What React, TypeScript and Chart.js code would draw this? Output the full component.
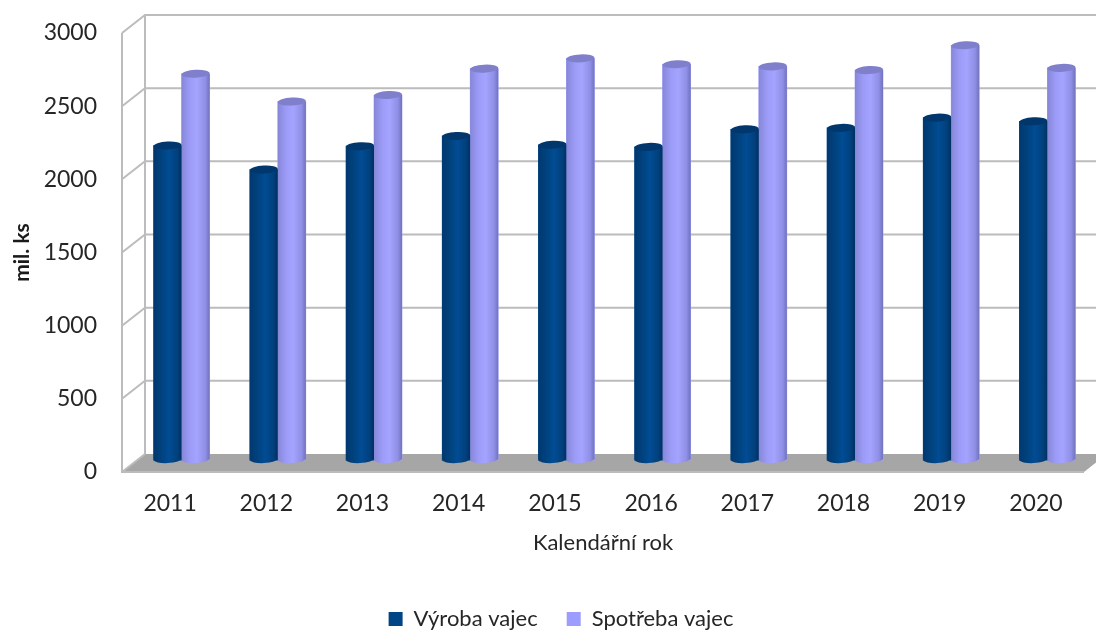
import React, { useEffect, useRef } from "react";
import { Chart, registerables } from "chart.js";

Chart.register(...registerables);

const years = ["2011", "2012", "2013", "2014", "2015", "2016", "2017", "2018", "2019", "2020"];
const vyroba = [2170, 2005, 2165, 2235, 2175, 2160, 2280, 2290, 2360, 2335];
const spotreba = [2660, 2470, 2515, 2695, 2765, 2725, 2710, 2685, 2855, 2700];

const FONT = "Lato";
const TEXT = "#262626";
const GRID = "#bcbcbc";
const DEPTH_X = 23;
const DEPTH_Y = 18;

const shades = [
  {
    stops: [[0, "#01386f"], [0.3, "#00437f"], [0.55, "#014c94"], [0.85, "#01407c"], [1, "#01305f"]] as [number, string][],
    cap: "#01376d",
  },
  {
    stops: [[0, "#8686d8"], [0.3, "#9c9cf8"], [0.55, "#a4a4ff"], [0.85, "#8f8fe6"], [1, "#7272bc"]] as [number, string][],
    cap: "#7f7fcc",
  },
];

const room = {
  id: "room",
  afterLayout(chart: any) {
    chart.legend.left += 19;
    chart.legend.right += 19;
  },
  beforeDatasetsDraw(chart: any) {
    const { ctx, chartArea: a, scales } = chart;
    const y = scales.y;
    ctx.save();
    ctx.fillStyle = "#a6a6a6";
    ctx.beginPath();
    ctx.moveTo(a.left, a.bottom);
    ctx.lineTo(a.left + DEPTH_X, a.bottom - DEPTH_Y);
    ctx.lineTo(a.right + DEPTH_X, a.bottom - DEPTH_Y);
    ctx.lineTo(a.right, a.bottom);
    ctx.closePath();
    ctx.fill();
    ctx.strokeStyle = GRID;
    ctx.lineWidth = 2;
    for (const t of y.ticks) {
      const py = y.getPixelForValue(t.value);
      ctx.beginPath();
      ctx.moveTo(a.left, py);
      ctx.lineTo(a.left + DEPTH_X, py - DEPTH_Y);
      if (t.value !== 0) ctx.lineTo(a.right + DEPTH_X, py - DEPTH_Y);
      ctx.stroke();
    }
    ctx.beginPath();
    ctx.moveTo(a.left, a.top);
    ctx.lineTo(a.left, a.bottom);
    ctx.lineTo(a.right, a.bottom);
    ctx.moveTo(a.left + DEPTH_X, a.top - DEPTH_Y);
    ctx.lineTo(a.left + DEPTH_X, a.bottom - DEPTH_Y);
    ctx.stroke();
    ctx.restore();
  },
  beforeDatasetDraw(chart: any) {
    chart.ctx.save();
    chart.ctx.translate(DEPTH_X / 2, -DEPTH_Y / 2);
  },
  afterDatasetDraw(chart: any) {
    chart.ctx.restore();
  },
  afterDatasetsDraw(chart: any) {
    const { ctx } = chart;
    ctx.save();
    ctx.translate(DEPTH_X / 2, -DEPTH_Y / 2);
    [0, 1].forEach((i) => {
      const shade = shades[i];
      for (const bar of chart.getDatasetMeta(i).data) {
        const { x, y, base, width } = bar.getProps(["x", "y", "base", "width"], true);
        const l = x - width / 2;
        const g = ctx.createLinearGradient(l, 0, l + width, 0);
        shade.stops.forEach(([o, c]) => g.addColorStop(o, c));
        ctx.fillStyle = g;
        const rx = width / 2;
        const ry = 4;
        const tilt = -0.05;
        ctx.beginPath();
        ctx.ellipse(x, base - 1, rx, ry, tilt, 0, Math.PI * 2);
        ctx.fill();
        ctx.fillRect(l, y, width, base - 1 - y);
        ctx.fillStyle = shade.cap;
        ctx.beginPath();
        ctx.ellipse(x, y, rx, ry, tilt, 0, Math.PI * 2);
        ctx.fill();
      }
    });
    ctx.restore();
  },
};

export default function App() {
  const ref = useRef<HTMLCanvasElement>(null);
  useEffect(() => {
    const chart = new Chart(ref.current!, {
      type: "bar",
      data: {
        labels: years,
        datasets: [
          { label: "Výroba vajec", data: vyroba, backgroundColor: "#004586", barThickness: 28, base: 20 },
          { label: "Spotřeba vajec", data: spotreba, backgroundColor: "#9d9dff", barThickness: 28, base: 20 },
        ],
      },
      options: {
        responsive: false,
        animation: false,
        layout: { padding: { top: 33, right: 12, left: 0, bottom: -10 } },
        plugins: {
          tooltip: { enabled: false },
          legend: {
            position: "bottom",
            labels: {
              font: { family: FONT, size: 22 },
              color: TEXT,
              boxWidth: 14,
              boxHeight: 14,
              padding: 29,
            },
          },
        },
        scales: {
          x: {
            grid: { display: false, drawTicks: false },
            border: { display: false },
            ticks: { font: { family: FONT, size: 23 }, color: TEXT, padding: 18, maxRotation: 0 },
            title: {
              display: true,
              text: "Kalendářní rok",
              font: { family: FONT, size: 22 },
              color: TEXT,
              padding: { top: 6, bottom: 23 },
            },
            afterFit(s: any) {
              s.height = 107;
            },
          },
          y: {
            min: 0,
            max: 3000,
            grid: { display: false, drawTicks: false },
            border: { display: false },
            ticks: {
              stepSize: 500,
              font: { family: FONT, size: 23 },
              color: TEXT,
              padding: 25,
              callback: (v: any) => String(v),
            },
            title: {
              display: true,
              text: "mil. ks",
              font: { family: FONT, size: 21, weight: "bold" },
              color: "#1a1a1a",
              padding: { top: 10, bottom: 0 },
            },
            afterFit(s: any) {
              s.width = 122;
              s.paddingTop = 0;
              s.paddingBottom = 0;
            },
          },
        },
      },
      plugins: [room],
    } as any);
    return () => chart.destroy();
  }, []);
  return (
    <div style={{ position: "fixed", left: 0, top: 0, width: 1096, height: 630, background: "#fff" }}>
      <canvas ref={ref} width={1096} height={630} style={{ display: "block" }} />
    </div>
  );
}
